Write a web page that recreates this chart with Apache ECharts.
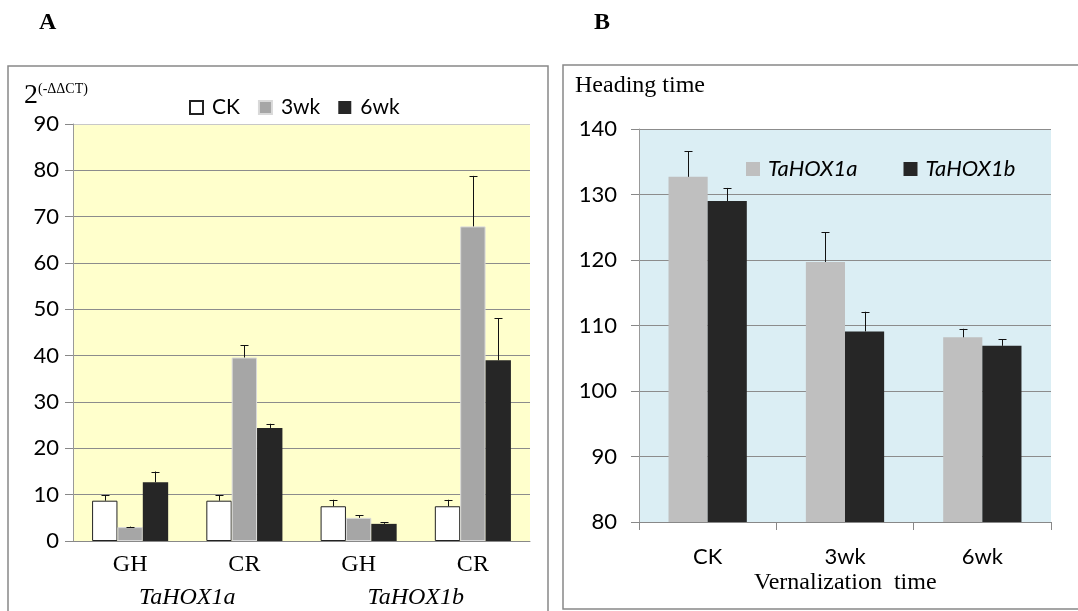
<!DOCTYPE html>
<html>
<head>
<meta charset="utf-8">
<script src="https://cdn.jsdelivr.net/npm/echarts@6/dist/echarts.min.js"></script>
<style>
html,body{margin:0;padding:0;background:#fff;}
#chart{width:1078px;height:611px;}
</style>
</head>
<body>
<div id="chart"></div>
<script>
// ---------- Panel A data ----------
const aSamples = ['GH', 'CR', 'GH', 'CR'];
const aGenes = ['TaHOX1a', 'TaHOX1b'];
const aSeriesNames = ['CK', '3wk', '6wk'];
const aCK = [8.7, 8.7, 7.5, 7.5];
const aCKErr = [9.9, 9.9, 8.9, 8.9];
const a3wk = [3.0, 39.6, 5.0, 67.9];
const a3wkErr = [3.1, 42.2, 5.6, 78.8];
const a6wk = [12.7, 24.4, 3.7, 39.0];
const a6wkErr = [15.0, 25.3, 4.1, 48.1];
const aYTicks = [0, 10, 20, 30, 40, 50, 60, 70, 80, 90];

// ---------- Panel B data ----------
const bCategories = ['CK', '3wk', '6wk'];
const bSeriesNames = ['TaHOX1a', 'TaHOX1b'];
const b1a = [132.7, 119.7, 108.2];
const b1aErr = [136.6, 124.2, 109.5];
const b1b = [129.0, 109.1, 106.9];
const b1bErr = [131.0, 112.1, 107.9];
const bYTicks = [80, 90, 100, 110, 120, 130, 140];

const chart = echarts.init(document.getElementById('chart'), null, {renderer: 'canvas'});

const SANS = 'Lato';
const SERIF = '"Liberation Serif", "DejaVu Serif", serif';

function errSeries(name, xAxisIndex, yAxisIndex, vals, tops, idx, n, frac) {
  return {
    type: 'custom',
    name: name + '_err',
    xAxisIndex: xAxisIndex,
    yAxisIndex: yAxisIndex,
    z: 5,
    silent: true,
    data: vals.map((v, i) => [i, v, tops[i]]),
    renderItem: function (params, api) {
      const x = api.value(0);
      const base = api.coord([x, api.value(1)]);
      const top = api.coord([x, api.value(2)]);
      const catW = api.size([1, 0])[0];
      const off = (idx - (n - 1) / 2) * catW * frac;
      const cx = Math.round(base[0] + off) + 0.5;
      const cap = 4;
      return {
        type: 'group',
        children: [
          {type: 'line', shape: {x1: cx, y1: base[1], x2: cx, y2: top[1]}, style: {stroke: '#111', lineWidth: 1}},
          {type: 'line', shape: {x1: cx - cap, y1: Math.round(top[1]) + 0.5, x2: cx + cap, y2: Math.round(top[1]) + 0.5}, style: {stroke: '#111', lineWidth: 1}}
        ]
      };
    }
  };
}

const aFrac = 0.222;
const bFrac = 0.285;

const option = {
  animation: false,
  backgroundColor: '#ffffff',
  graphic: [
    {type: 'rect', shape: {x: 8, y: 66, width: 540, height: 600}, style: {fill: 'none', stroke: '#888', lineWidth: 1.5}, z: 0},
    {type: 'rect', shape: {x: 563, y: 65, width: 560, height: 544}, style: {fill: 'none', stroke: '#888', lineWidth: 1.5}, z: 0},
    {type: 'text', left: 39, top: 11, style: {text: 'A', font: 'bold 24px ' + SERIF, fill: '#000'}},
    {type: 'text', left: 594, top: 11, style: {text: 'B', font: 'bold 24px ' + SERIF, fill: '#000'}},
    {type: 'text', left: 24, top: 82, style: {
      text: '{b|2}{s|(-ΔΔCT)}',
      rich: {
        b: {fontFamily: SERIF, fontSize: 28, fill: '#000', verticalAlign: 'bottom'},
        s: {fontFamily: SERIF, fontSize: 14, fill: '#000', verticalAlign: 'top', padding: [0, 0, 13, 0]}
      }
    }},
    {type: 'text', left: 575, top: 74, style: {text: 'Heading time', font: '24px ' + SERIF, fill: '#000'}},
    {type: 'text', left: 754, top: 571, style: {text: 'Vernalization  time', font: '24px ' + SERIF, fill: '#000'}}
  ],
  legend: [
    {
      data: aSeriesNames,
      left: 184, top: 92,
      itemWidth: 13, itemHeight: 13, itemGap: 18,
      icon: 'rect',
      textStyle: {fontFamily: SANS, fontSize: 21, color: '#000', padding: [0, 0, 0, 4]}
    },
    {
      data: bSeriesNames,
      left: 741, top: 153,
      itemWidth: 14, itemHeight: 14, itemGap: 46,
      icon: 'rect',
      textStyle: {fontFamily: SANS, fontSize: 22, fontStyle: 'italic', color: '#000', padding: [0, 0, 0, 3]}
    }
  ],
  grid: [
    {left: 73, top: 124, width: 457, height: 417, show: true, backgroundColor: '#ffffcc', borderWidth: 0},
    {left: 639, top: 129, width: 412, height: 393, show: true, backgroundColor: '#dbeef4', borderWidth: 0}
  ],
  xAxis: [
    {
      type: 'category', gridIndex: 0, data: aSamples,
      axisLine: {lineStyle: {color: '#888'}},
      axisTick: {show: false},
      axisLabel: {fontFamily: SERIF, fontSize: 24, color: '#000', margin: 12}
    },
    {
      type: 'category', gridIndex: 0, data: aGenes, position: 'bottom',
      axisLine: {show: false}, axisTick: {show: false}, splitLine: {show: false},
      axisLabel: {fontFamily: SERIF, fontSize: 24, fontStyle: 'italic', color: '#000', margin: 45}
    },
    {
      type: 'category', gridIndex: 1, data: bCategories,
      axisLine: {lineStyle: {color: '#888'}},
      axisTick: {show: true, length: 8, alignWithLabel: false, lineStyle: {color: '#888'}},
      axisLabel: {fontFamily: SANS, fontSize: 22, color: '#000', margin: 24}
    }
  ],
  yAxis: [
    {
      type: 'value', gridIndex: 0, min: aYTicks[0], max: aYTicks[aYTicks.length - 1], interval: 10,
      axisLine: {show: true, lineStyle: {color: '#999'}},
      axisTick: {show: true, length: 8, lineStyle: {color: '#888'}},
      splitLine: {lineStyle: {color: ['#8c8c8c', '#8c8c8c', '#8c8c8c', '#8c8c8c', '#8c8c8c', '#8c8c8c', '#8c8c8c', '#8c8c8c', '#8c8c8c', '#c8c8c8']}},
      axisLabel: {fontFamily: SANS, fontSize: 22, color: '#000', margin: 14}
    },
    {
      type: 'value', gridIndex: 1, min: bYTicks[0], max: bYTicks[bYTicks.length - 1], interval: 10,
      axisLine: {show: true, lineStyle: {color: '#999'}},
      axisTick: {show: true, length: 8, lineStyle: {color: '#888'}},
      splitLine: {lineStyle: {color: '#8c8c8c'}},
      axisLabel: {fontFamily: SANS, fontSize: 22, color: '#000', margin: 22}
    }
  ],
  series: [
    {name: 'CK', type: 'bar', xAxisIndex: 0, yAxisIndex: 0, data: aCK, barWidth: '22.2%', barGap: '0%',
     itemStyle: {color: '#ffffff', borderColor: '#222', borderWidth: 1}},
    {name: '3wk', type: 'bar', xAxisIndex: 0, yAxisIndex: 0, data: a3wk, barWidth: '22.2%', barGap: '0%',
     itemStyle: {color: '#a6a6a6', borderColor: '#d9d9d9', borderWidth: 1}},
    {name: '6wk', type: 'bar', xAxisIndex: 0, yAxisIndex: 0, data: a6wk, barWidth: '22.2%', barGap: '0%',
     itemStyle: {color: '#262626', borderColor: '#262626', borderWidth: 0}},
    errSeries('CK', 0, 0, aCK, aCKErr, 0, 3, aFrac),
    errSeries('3wk', 0, 0, a3wk, a3wkErr, 1, 3, aFrac),
    errSeries('6wk', 0, 0, a6wk, a6wkErr, 2, 3, aFrac),

    {name: 'TaHOX1a', type: 'bar', xAxisIndex: 2, yAxisIndex: 1, data: b1a, barWidth: '28.5%', barGap: '0%',
     itemStyle: {color: '#bfbfbf'}},
    {name: 'TaHOX1b', type: 'bar', xAxisIndex: 2, yAxisIndex: 1, data: b1b, barWidth: '28.5%', barGap: '0%',
     itemStyle: {color: '#262626'}},
    errSeries('TaHOX1a', 2, 1, b1a, b1aErr, 0, 2, bFrac),
    errSeries('TaHOX1b', 2, 1, b1b, b1bErr, 1, 2, bFrac)
  ]
};

chart.setOption(option);
</script>
</body>
</html>
